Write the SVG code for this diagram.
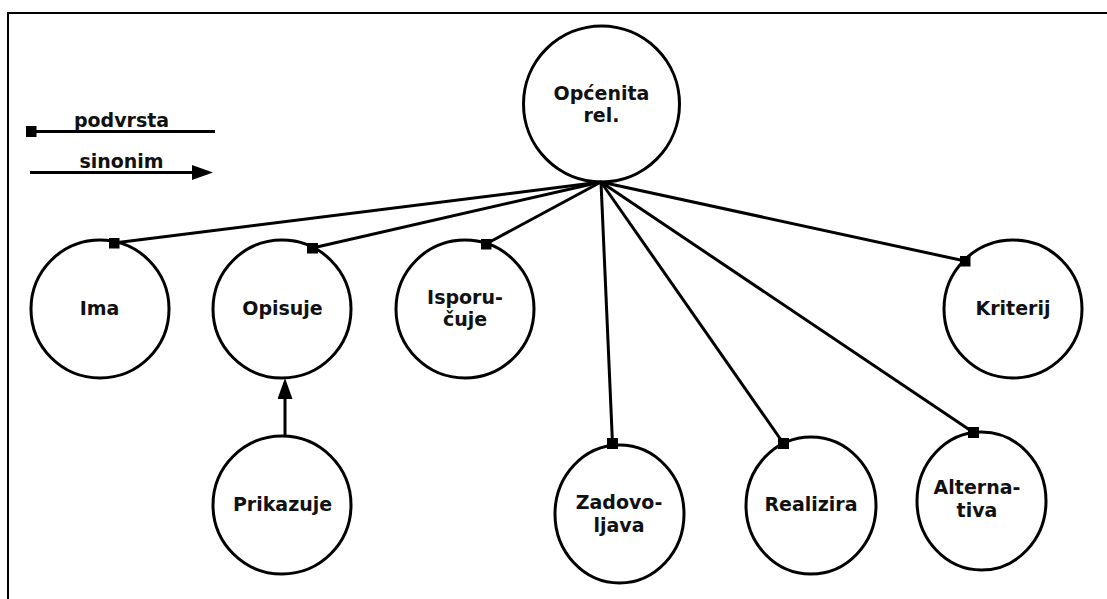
<svg xmlns="http://www.w3.org/2000/svg" width="1107" height="599" viewBox="0 0 1107 599">
<style>
.node{fill:#fff;stroke:#000;stroke-width:3}
.lbl{font-family:"DejaVu Sans",Verdana,sans-serif;font-weight:bold;font-size:19px;fill:#111;text-anchor:middle}
.con{stroke:#000;stroke-width:3;fill:none}
</style>
<defs>
<marker id="sq" viewBox="0 0 11 11" refX="5.5" refY="5.5" markerWidth="11" markerHeight="11" markerUnits="userSpaceOnUse" orient="0"><rect width="11" height="11" fill="#000"/></marker>
<marker id="arr" viewBox="0 0 21 15" refX="3" refY="7.5" markerWidth="21" markerHeight="15" markerUnits="userSpaceOnUse" orient="auto"><path d="M0,0 L21,7.5 L0,15 z" fill="#000"/></marker>
</defs>
<rect width="1107" height="599" fill="#fff"/>
<rect x="8" y="13" width="1120" height="620" fill="none" stroke="#000" stroke-width="2"/>
<g id="legend">
<line class="con" x1="31" y1="131.5" x2="215" y2="131.5" marker-start="url(#sq)"/>
<text class="lbl" x="121.5" y="126.5">podvrsta</text>
<line class="con" x1="30" y1="172.5" x2="195" y2="172.5" marker-end="url(#arr)"/>
<text class="lbl" x="121.5" y="168">sinonim</text>
</g>
<g id="n-opcenita"><circle class="node" cx="601.5" cy="104" r="78"/><text class="lbl" x="601.5" y="99.5">Općenita</text><text class="lbl" x="601.5" y="121.5">rel.</text></g>
<g id="n-ima"><circle class="node" cx="100" cy="309" r="69"/><text class="lbl" x="99.5" y="315">Ima</text></g>
<g id="n-opisuje"><circle class="node" cx="282" cy="309" r="69"/><text class="lbl" x="282.5" y="315">Opisuje</text></g>
<g id="n-isporucuje"><circle class="node" cx="465" cy="309" r="69"/><text class="lbl" x="465" y="303.5">Isporu-</text><text class="lbl" x="465" y="326">čuje</text></g>
<g id="n-kriterij"><circle class="node" cx="1013" cy="309" r="69"/><text class="lbl" x="1013" y="314.5">Kriterij</text></g>
<g id="n-prikazuje"><circle class="node" cx="282" cy="505" r="69"/><text class="lbl" x="282.5" y="510.5">Prikazuje</text></g>
<g id="n-zadovoljava"><ellipse class="node" cx="619.5" cy="514" rx="64.5" ry="69"/><text class="lbl" x="619" y="509">Zadovo-</text><text class="lbl" x="619" y="531.5">ljava</text></g>
<g id="n-realizira"><ellipse class="node" cx="811" cy="505.5" rx="65" ry="68.5"/><text class="lbl" x="811" y="510.5">Realizira</text></g>
<g id="n-alternativa"><ellipse class="node" cx="981.5" cy="501" rx="64.5" ry="69"/><text class="lbl" x="977" y="494">Alterna-</text><text class="lbl" x="977" y="517">tiva</text></g>
<g id="connectors">
<line class="con" x1="601" y1="182" x2="114" y2="243" marker-end="url(#sq)"/>
<line class="con" x1="601" y1="182" x2="312.5" y2="248" marker-end="url(#sq)"/>
<line class="con" x1="601" y1="182" x2="486" y2="244" marker-end="url(#sq)"/>
<line class="con" x1="601" y1="182" x2="965" y2="261" marker-end="url(#sq)"/>
<line class="con" x1="601" y1="182" x2="612.5" y2="443.5" marker-end="url(#sq)"/>
<line class="con" x1="601" y1="182" x2="783.5" y2="443.5" marker-end="url(#sq)"/>
<line class="con" x1="601" y1="182" x2="973.5" y2="432.5" marker-end="url(#sq)"/>
<line class="con" x1="285" y1="436" x2="285" y2="396" marker-end="url(#arr)"/>
</g>
</svg>
